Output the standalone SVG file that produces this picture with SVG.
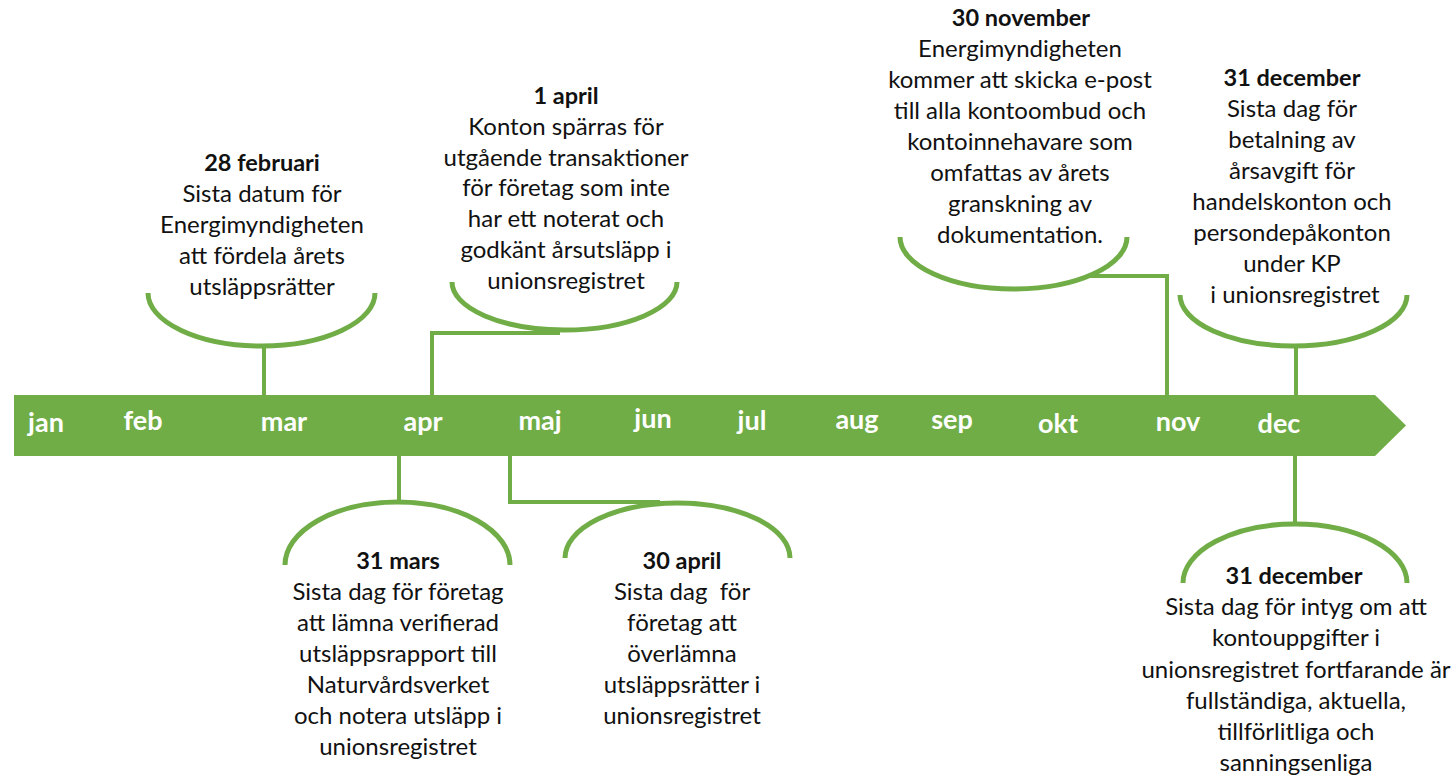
<svg xmlns="http://www.w3.org/2000/svg" width="1456" height="777" viewBox="0 0 1456 777">
<style>
.t{font-family:Lato,"Liberation Sans",sans-serif;font-size:24px;fill:#111;text-anchor:middle;white-space:pre}
.b{font-weight:bold;font-size:23.5px}
.m{font-family:Lato,"Liberation Sans",sans-serif;font-size:27px;font-weight:bold;fill:#fff;text-anchor:middle}
.arc{fill:none;stroke:#70AD47;stroke-width:5}
.con{fill:none;stroke:#70AD47;stroke-width:4}
</style>
<rect width="1456" height="777" fill="#fff"/>
<g id="timeline">
<path d="M14,395 H1375 L1406,425.5 L1375,456 H14 Z" fill="#70AD47"/>
<text class="m" x="46" y="432">jan</text>
<text class="m" x="143" y="430">feb</text>
<text class="m" x="284" y="431">mar</text>
<text class="m" x="423" y="431">apr</text>
<text class="m" x="540" y="430">maj</text>
<text class="m" x="653" y="428">jun</text>
<text class="m" x="752" y="430">jul</text>
<text class="m" x="857" y="429">aug</text>
<text class="m" x="952" y="429">sep</text>
<text class="m" x="1058" y="433">okt</text>
<text class="m" x="1178" y="431">nov</text>
<text class="m" x="1279" y="433">dec</text>
</g>
<g id="connectors">
<path class="con" d="M264,346 V396"/>
<path class="con" d="M432,396 V333 H560"/>
<path class="con" d="M1087,276 H1167 V396"/>
<path class="con" d="M1296,346 V396"/>
<path class="con" d="M399,455 V502"/>
<path class="con" d="M510,455 V502 H660"/>
<path class="con" d="M1295,455 V524"/>
</g>
<g id="n-28feb">
<path class="arc" d="M148,293 A113.5,53 0 0 0 375,293"/>
<text class="t b" x="262" y="171">28 februari</text>
<text class="t" x="262" y="202">Sista datum för</text>
<text class="t" x="262" y="233">Energimyndigheten</text>
<text class="t" x="262" y="264">att fördela årets</text>
<text class="t" x="262" y="295">utsläppsrätter</text>
</g>
<g id="n-1apr">
<path class="arc" d="M452,282 A112.5,48 0 0 0 677,282"/>
<text class="t b" x="566" y="104">1 april</text>
<text class="t" x="566" y="135">Konton spärras för</text>
<text class="t" x="566" y="166">utgående transaktioner</text>
<text class="t" x="566" y="196">för företag som inte</text>
<text class="t" x="566" y="227">har ett noterat och</text>
<text class="t" x="566" y="258">godkänt årsutsläpp i</text>
<text class="t" x="566" y="289">unionsregistret</text>
</g>
<g id="n-30nov">
<path class="arc" d="M900,237 A113.5,52 0 0 0 1127,237"/>
<text class="t b" x="1021" y="26">30 november</text>
<text class="t" x="1020" y="57">Energimyndigheten</text>
<text class="t" x="1020" y="88">kommer att skicka e-post</text>
<text class="t" x="1020" y="119">till alla kontoombud och</text>
<text class="t" x="1020" y="150">kontoinnehavare som</text>
<text class="t" x="1020" y="181">omfattas av årets</text>
<text class="t" x="1020" y="212">granskning av</text>
<text class="t" x="1020" y="243">dokumentation.</text>
</g>
<g id="n-31dec-top">
<path class="arc" d="M1180,295 A113.5,51 0 0 0 1407,295"/>
<text class="t b" x="1292" y="86">31 december</text>
<text class="t" x="1292" y="117">Sista dag för</text>
<text class="t" x="1292" y="148">betalning av</text>
<text class="t" x="1292" y="179">årsavgift för</text>
<text class="t" x="1292" y="210">handelskonton och</text>
<text class="t" x="1292" y="241">persondepåkonton</text>
<text class="t" x="1292" y="272">under KP</text>
<text class="t" x="1295" y="303">i unionsregistret</text>
</g>
<g id="n-31mar">
<path class="arc" d="M285,565 A112.5,63 0 0 1 510,565"/>
<text class="t b" x="398" y="569">31 mars</text>
<text class="t" x="398" y="600">Sista dag för företag</text>
<text class="t" x="398" y="631">att lämna verifierad</text>
<text class="t" x="398" y="662">utsläppsrapport till</text>
<text class="t" x="398" y="693">Naturvårdsverket</text>
<text class="t" x="398" y="724">och notera utsläpp i</text>
<text class="t" x="398" y="755">unionsregistret</text>
</g>
<g id="n-30apr">
<path class="arc" d="M565,558 A112.5,55 0 0 1 790,558"/>
<text class="t b" x="682" y="569">30 april</text>
<text class="t" x="682" y="600" xml:space="preserve">Sista dag  för</text>
<text class="t" x="682" y="631">företag att</text>
<text class="t" x="682" y="662">överlämna</text>
<text class="t" x="682" y="693">utsläppsrätter i</text>
<text class="t" x="682" y="724">unionsregistret</text>
</g>
<g id="n-31dec-bottom">
<path class="arc" d="M1183,583 A112,59 0 0 1 1407,583"/>
<text class="t b" x="1294" y="584">31 december</text>
<text class="t" x="1296" y="615">Sista dag för intyg om att</text>
<text class="t" x="1296" y="646">kontouppgifter i</text>
<text class="t" x="1296" y="678">unionsregistret fortfarande är</text>
<text class="t" x="1296" y="709">fullständiga, aktuella,</text>
<text class="t" x="1296" y="740">tillförlitliga och</text>
<text class="t" x="1296" y="771">sanningsenliga</text>
</g>
</svg>
